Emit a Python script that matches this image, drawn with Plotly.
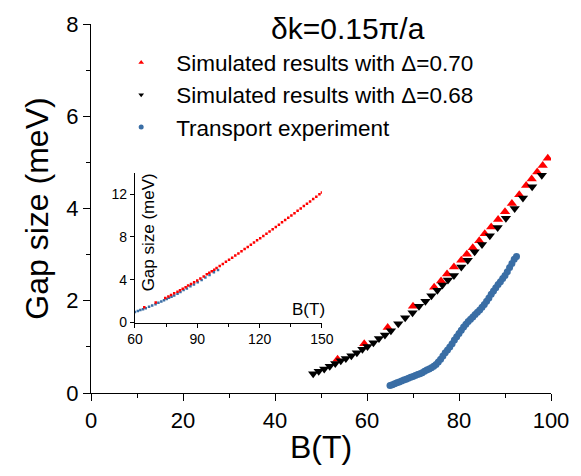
import plotly.graph_objects as go

# ---------------- data ----------------
# Simulated results, Delta = 0.70 (red up-triangles)
sim070_B = [53.6, 59.4, 64.5, 70.0, 74.6, 76.1, 77.4, 78.9, 80.5, 81.7, 83.0, 84.4,
            85.6, 87.0, 88.5, 90.0, 91.5, 93.1, 94.6, 95.8, 97.0, 98.2, 99.3]
sim070_G = [0.73, 1.07, 1.42, 1.88, 2.29, 2.43, 2.58, 2.73, 2.88, 3.01, 3.15, 3.30,
            3.45, 3.60, 3.76, 3.93, 4.11, 4.30, 4.50, 4.64, 4.79, 4.93, 5.09]

# Simulated results, Delta = 0.68 (black down-triangles)
sim068_B = [48.3, 49.5, 50.7, 51.9, 53.1, 54.3, 55.4, 56.6, 57.8, 59.0, 60.1, 61.4,
            62.6, 63.9, 65.2, 66.8, 68.3, 69.9, 71.3, 72.7, 74.0, 75.3, 76.4, 77.6,
            78.9, 80.5, 81.9, 83.4, 85.0, 86.7, 88.4, 90.2, 92.1, 93.9, 95.9, 98.0]
sim068_G = [0.42, 0.47, 0.52, 0.58, 0.64, 0.70, 0.75, 0.81, 0.87, 0.95, 1.01, 1.09,
            1.18, 1.26, 1.35, 1.50, 1.63, 1.74, 1.88, 1.99, 2.11, 2.23, 2.34, 2.45,
            2.55, 2.73, 2.88, 3.06, 3.22, 3.41, 3.59, 3.79, 4.00, 4.23, 4.47, 4.72]

# Transport experiment (blue circles)
exp_B = [65.0, 65.5, 66.0, 66.5, 67.0, 67.5, 68.0, 68.5, 69.0, 69.5, 70.0, 70.5,
         71.0, 71.5, 72.0, 72.5, 73.0, 73.5, 74.0, 74.5, 75.0, 75.5, 76.0, 76.5,
         77.0, 77.5, 78.0, 78.5, 79.0, 79.5, 80.0, 80.5, 81.0, 81.5, 82.0, 82.5,
         83.0, 83.5, 84.0, 84.5, 85.0, 85.5, 86.0, 86.5, 87.0, 87.5, 88.0, 88.5,
         89.0, 89.5, 90.0, 90.5, 91.0, 91.5, 92.0, 92.5]
exp_G = [0.16, 0.18, 0.20, 0.22, 0.24, 0.26, 0.28, 0.30, 0.32, 0.34, 0.36, 0.38,
         0.40, 0.42, 0.44, 0.47, 0.50, 0.52, 0.55, 0.58, 0.62, 0.67, 0.73, 0.80,
         0.87, 0.93, 1.00, 1.07, 1.15, 1.22, 1.29, 1.36, 1.43, 1.49, 1.55, 1.60,
         1.65, 1.70, 1.75, 1.80, 1.86, 1.92, 1.99, 2.06, 2.14, 2.21, 2.28, 2.35,
         2.41, 2.48, 2.55, 2.63, 2.72, 2.81, 2.90, 2.96]

# Inset: extension of the Delta=0.70 simulation to higher fields
ext_B = [100.8, 102.3, 103.8, 105.3, 106.8, 108.3, 109.8, 111.3, 112.8, 114.3, 115.8,
         117.3, 118.8, 120.3, 121.8, 123.3, 124.8, 126.3, 127.8, 129.3, 130.8, 132.3,
         133.8, 135.3, 136.8, 138.3, 139.8, 141.3, 142.8, 144.3, 145.8, 147.3, 148.8, 150.0]
ext_G = [5.28, 5.47, 5.67, 5.86, 6.06, 6.26, 6.46, 6.66, 6.86, 7.06, 7.27,
         7.47, 7.68, 7.88, 8.09, 8.30, 8.51, 8.72, 8.93, 9.14, 9.36, 9.57,
         9.79, 10.00, 10.22, 10.44, 10.66, 10.88, 11.10, 11.32, 11.54, 11.76, 11.98, 12.15]
# Inset: lower-field simulation (blue dots)
inset_blue_B = [60.0, 61.4, 62.6, 63.9, 65.2, 66.8, 68.3, 69.9, 71.3, 72.7, 74.0, 75.3,
                76.4, 77.6, 78.9, 80.5, 81.9, 83.4, 85.0, 86.7, 88.4, 90.2, 92.1, 93.9,
                95.9, 98.0, 100.0]
inset_blue_G = [0.98, 1.07, 1.16, 1.24, 1.33, 1.47, 1.60, 1.71, 1.85, 1.96, 2.08, 2.20,
                2.31, 2.42, 2.52, 2.70, 2.85, 3.03, 3.19, 3.38, 3.56, 3.76, 3.97, 4.20,
                4.44, 4.69, 4.90]

title_text = "δk=0.15π/a"
legend_names = ["Simulated results with Δ=0.70", "Simulated results with Δ=0.68",
                "Transport experiment"]

RED = "#ff0000"
BLACK = "#000000"
BLUE = "#3a6ea5"
FONT = "Liberation Sans, Arial, sans-serif"

fig = go.Figure()

# main traces
fig.add_trace(go.Scatter(x=sim070_B, y=sim070_G, mode="markers", showlegend=False,
                         marker=dict(symbol="triangle-up", size=9, color=RED)))
fig.add_trace(go.Scatter(x=sim068_B, y=sim068_G, mode="markers", showlegend=False,
                         marker=dict(symbol="triangle-down", size=9, color=BLACK)))
fig.add_trace(go.Scatter(x=exp_B, y=exp_G, mode="markers", showlegend=False,
                         marker=dict(symbol="circle", size=7, color=BLUE)))

# legend-only entries (small symbols as in the reference)
for name, sym, col in zip(legend_names, ["triangle-up", "triangle-down", "circle"],
                          [RED, BLACK, BLUE]):
    fig.add_trace(go.Scatter(x=[None], y=[None], mode="markers", name=name,
                             marker=dict(symbol=sym, size=5, color=col)))

# inset traces
fig.add_trace(go.Scatter(x=inset_blue_B, y=inset_blue_G, mode="markers", showlegend=False,
                         xaxis="x2", yaxis="y2",
                         marker=dict(symbol="square", size=2.5, color=BLUE)))
fig.add_trace(go.Scatter(x=sim070_B + ext_B, y=sim070_G + ext_G, mode="markers",
                         showlegend=False, xaxis="x2", yaxis="y2",
                         marker=dict(symbol="square", size=2.5, color=RED)))

axis_common = dict(showline=True, linecolor="black", linewidth=1.3, ticks="outside",
                   tickcolor="black", tickwidth=1.3, showgrid=False, zeroline=False,
                   mirror=False)

fig.update_layout(
    width=581, height=476,
    margin=dict(l=91, r=19, t=15, b=83),
    paper_bgcolor="white", plot_bgcolor="white",
    font=dict(family=FONT, color="black"),
    xaxis=dict(range=[0, 100], tickvals=[0, 20, 40, 60, 80, 100], ticklen=7,
               tickfont=dict(size=22),
               minor=dict(tickvals=[10, 30, 50, 70, 90], ticklen=4, ticks="outside",
                          tickcolor="black", tickwidth=1.3),
               title=dict(text="B(T)", font=dict(size=32), standoff=4),
               domain=[0, 1], **axis_common),
    yaxis=dict(range=[0, 8], tickvals=[0, 2, 4, 6, 8], ticklen=7,
               tickfont=dict(size=22),
               minor=dict(tickvals=[1, 3, 5, 7], ticklen=4, ticks="outside",
                          tickcolor="black", tickwidth=1.3),
               title=dict(text="Gap size (meV)", font=dict(size=32), standoff=8),
               domain=[0, 1], **axis_common),
    xaxis2=dict(range=[60, 150], tickvals=[60, 90, 120, 150], ticklen=4,
                tickfont=dict(size=14),
                minor=dict(tickvals=[75, 105, 135], ticklen=3, ticks="outside",
                           tickcolor="black", tickwidth=1),
                domain=[0.0955, 0.502], anchor="y2",
                showline=True, linecolor="black", linewidth=1, ticks="outside",
                tickcolor="black", tickwidth=1, showgrid=False, zeroline=False),
    yaxis2=dict(range=[0, 14], tickvals=[0, 4, 8, 12], ticklen=4,
                tickfont=dict(size=14),
                domain=[0.191, 0.597], anchor="x2",
                showline=True, linecolor="black", linewidth=1, ticks="outside",
                tickcolor="black", tickwidth=1, showgrid=False, zeroline=False),
    legend=dict(x=0.033, y=0.953, xanchor="left", yanchor="top",
                bgcolor="rgba(0,0,0,0)", font=dict(size=22.5, family=FONT),
                itemwidth=60, tracegroupgap=0),
    annotations=[
        dict(text=title_text, x=0.558, y=0.987, xref="paper", yref="paper",
             xanchor="center", yanchor="middle", showarrow=False,
             font=dict(size=30, family=FONT)),
        dict(text="Gap size (meV)", x=0.125, y=0.434, xref="paper", yref="paper",
             textangle=-90, xanchor="center", yanchor="middle", showarrow=False,
             font=dict(size=17, family=FONT)),
        dict(text="B(T)", x=0.512, y=0.2275, xref="paper", yref="paper",
             xanchor="right", yanchor="middle", showarrow=False,
             font=dict(size=17, family=FONT)),
    ],
)

fig.write_html("out.html")
